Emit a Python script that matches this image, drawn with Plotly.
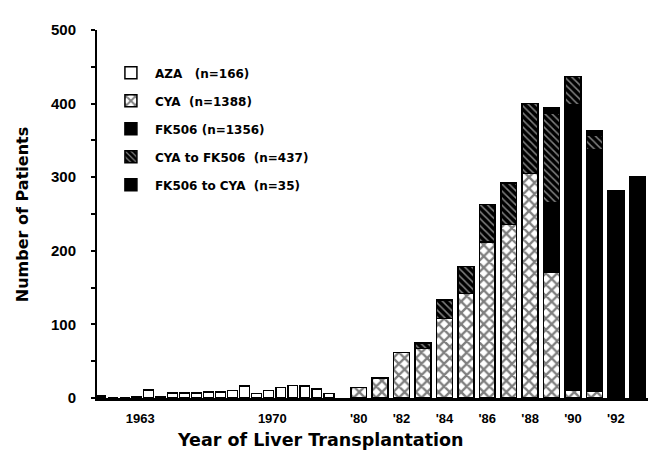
import plotly.graph_objects as go

# ---- data ----
# early era (AZA), one bar per slot
aza_early = [3, 0, 0, 2, 11, 2, 7, 7, 7, 8, 8, 10, 16, 6, 10, 14, 17, 16, 12, 6]
early_tick_pos = [3.3, 14.3]
early_tick_text = ["1963", "1970"]

years_right = ["'80", "'81", "'82", "'83", "'84", "'85", "'86", "'87",
               "'88", "'89", "'90", "'91", "'92", "'93"]
cya = [14, 27, 62, 67, 108, 142, 212, 236, 305, 171, 11, 9, 0, 0]
fk506 = [0, 0, 0, 0, 0, 0, 0, 0, 0, 94, 387, 328, 281, 300]
cya_to_fk = [0, 0, 0, 8, 25, 37, 51, 56, 95, 122, 39, 20, 0, 0]
fk_to_cya = [0, 0, 0, 0, 0, 0, 0, 0, 0, 8, 0, 6, 0, 0]
right_ticks = ["'80", "'82", "'84", "'86", "'88", "'90", "'92"]

names = ["AZA   (n=166)", "CYA  (n=1388)", "FK506 (n=1356)",
         "CYA to FK506  (n=437)", "FK506 to CYA  (n=35)"]

line = dict(color="black", width=1.5)
fig = go.Figure()

fig.add_trace(go.Bar(x=list(range(len(aza_early))), y=aza_early, name=names[0],
                     legendgroup="a", width=0.83, xaxis="x", yaxis="y",
                     marker=dict(color="white", line=line)))
fig.add_trace(go.Bar(x=years_right, y=cya, name=names[1], legendgroup="b",
                     width=0.74, xaxis="x2", yaxis="y",
                     marker=dict(color="white", line=line,
                                 pattern=dict(shape="x", fgcolor="black", bgcolor="white",
                                              size=8, solidity=0.5))))
fig.add_trace(go.Bar(x=years_right, y=fk506, name=names[2], legendgroup="c",
                     width=0.74, xaxis="x2", yaxis="y",
                     marker=dict(color="black", line=line)))
fig.add_trace(go.Bar(x=years_right, y=cya_to_fk, name=names[3], legendgroup="d",
                     width=0.74, xaxis="x2", yaxis="y",
                     marker=dict(color="black", line=line,
                                 pattern=dict(shape="\\", fgcolor="white", bgcolor="black",
                                              size=5, solidity=0.3))))
fig.add_trace(go.Bar(x=years_right, y=fk_to_cya, name=names[4], legendgroup="e",
                     width=0.74, xaxis="x2", yaxis="y",
                     marker=dict(color="black", line=line)))

bold = dict(family="Liberation Sans, Arial, sans-serif", color="black", weight="bold")
wide = dict(family="DejaVu Sans, sans-serif", color="black", weight="bold")

fig.update_layout(
    width=650, height=458,
    margin=dict(l=97, r=2, t=30, b=60, autoexpand=False),
    paper_bgcolor="white", plot_bgcolor="white",
    barmode="stack",
    showlegend=True,
    legend=dict(x=0.018, y=0.923, xanchor="left", yanchor="top",
                traceorder="grouped", tracegroupgap=9, itemwidth=38,
                font=dict(size=12, **wide), bgcolor="rgba(0,0,0,0)"),
    xaxis=dict(domain=[0, 0.4555], range=[-0.3, 20.6], showgrid=False, zeroline=False,
               showline=True, linecolor="black", linewidth=3, automargin=False,
               tickmode="array", tickvals=early_tick_pos, ticktext=early_tick_text,
               ticks="", ticklabelstandoff=6, tickfont=dict(size=13, **bold)),
    xaxis2=dict(domain=[0.4555, 1], range=[-0.5, 13.5], type="category",
                categoryorder="array", categoryarray=years_right,
                showgrid=False, zeroline=False, automargin=False,
                showline=True, linecolor="black", linewidth=3, anchor="y",
                tickmode="array", tickvals=right_ticks, ticktext=right_ticks,
                ticks="", ticklabelstandoff=6, tickfont=dict(size=13, **bold)),
    yaxis=dict(range=[0, 500], showgrid=False, zeroline=False, automargin=False,
               showline=True, linecolor="black", linewidth=2,
               tickmode="array", tickvals=list(range(0, 501, 50)),
               ticktext=[str(v) if v % 100 == 0 else "" for v in range(0, 501, 50)],
               ticks="outside", ticklen=4, tickcolor="black", tickwidth=1.5,
               ticklabelstandoff=12, tickfont=dict(size=15, **bold)),
    annotations=[
        dict(text="Year of Liver Transplantation", xref="paper", yref="paper",
             x=0.406, y=-0.115, xanchor="center", yanchor="middle",
             showarrow=False, font=dict(size=17.5, **wide)),
        dict(text="Number of Patients", xref="paper", yref="paper",
             x=-0.136, y=0.497, xanchor="center", yanchor="middle", textangle=-90,
             showarrow=False, font=dict(size=16, **wide)),
    ],
)

fig.write_html("out.html", config={"displayModeBar": False},
               post_script="document.body.style.margin='0';")
